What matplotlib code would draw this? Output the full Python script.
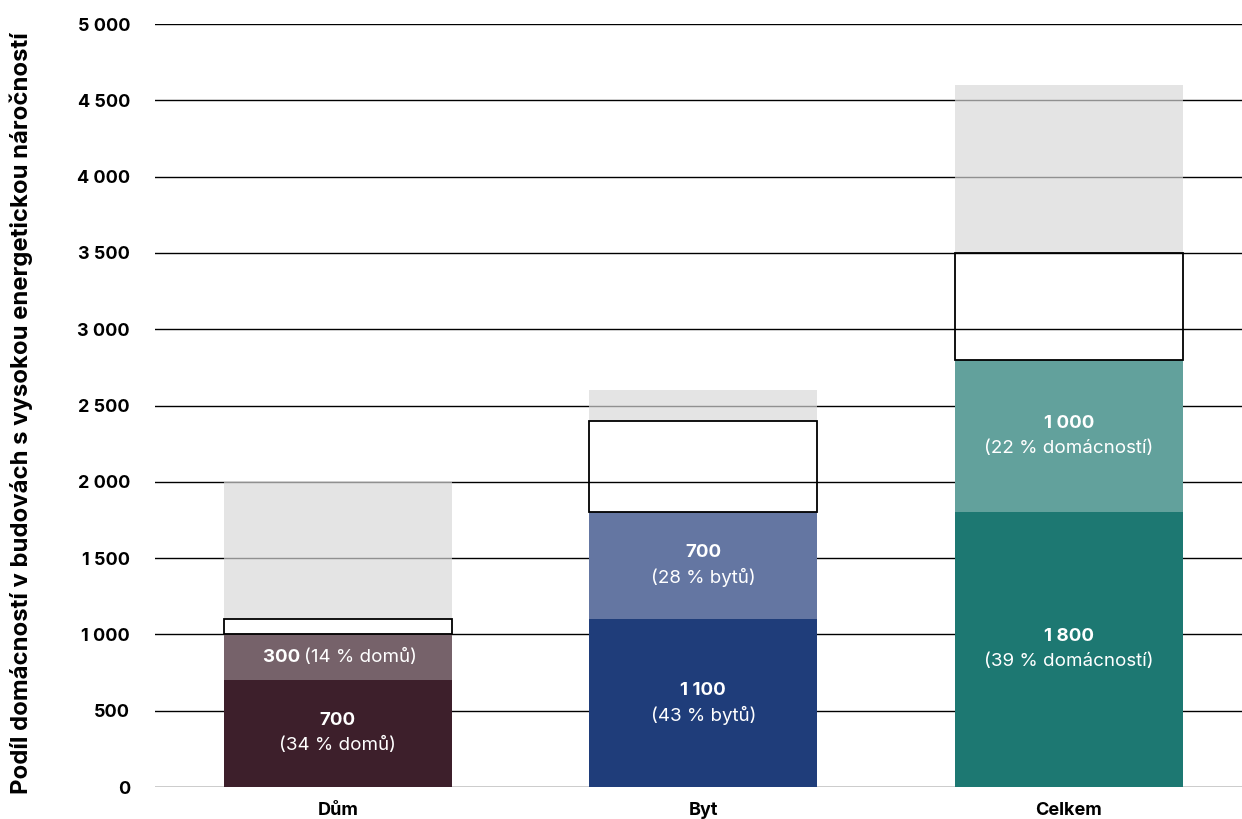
import numpy as np
import matplotlib
matplotlib.use("Agg")
from matplotlib import pyplot as plt

plt.rcParams['font.family'] = ['Inter', 'DejaVu Sans']

categories = ['Dům', 'Byt', 'Celkem']
high = [700, 1100, 1800]          # spodní segment
medium = [300, 700, 1000]         # druhý segment
outline = [100, 600, 700]         # prázdný rámeček
rest = [900, 200, 1100]           # šedý zbytek
high_pct = ['34 % domů', '43 % bytů', '39 % domácností']
medium_pct = ['14 % domů', '28 % bytů', '22 % domácností']
yticks = [0, 500, 1000, 1500, 2000, 2500, 3000, 3500, 4000, 4500, 5000]

dark = ['#3d1f2b', '#1f3d7a', '#1d7872']
light = ['#76626a', '#6476a2', '#62a19c']

fig = plt.figure(figsize=(12.42, 8.19), dpi=100)
ax = fig.add_axes([0.1248, 0.039, 0.8828, 0.9316])

x = np.arange(len(categories))
w = 0.624
high = np.array(high)
medium = np.array(medium)
outline = np.array(outline)
rest = np.array(rest)

for t in yticks:
    ax.axhline(t, color='black', lw=1.0, zorder=1)

ax.bar(x, high, w, color=dark, zorder=2)
ax.bar(x, medium, w, bottom=high, color=light, zorder=2)
ax.bar(x, outline, w, bottom=high + medium, facecolor='none',
       edgecolor='black', lw=1.3, zorder=4)
ax.bar(x, rest, w, bottom=high + medium + outline, color='#d7d7d7',
       alpha=0.675, lw=0, zorder=3)

fig.canvas.draw()
renderer = fig.canvas.get_renderer()

fs = 13.5


def two_lines(xc, ymid, top, bottom):
    # tučné číslo nahoře, podíl v závorce pod ním
    ax.annotate(top, (xc, ymid), xytext=(0, 13), textcoords='offset pixels',
                ha='center', va='center', color='white', fontsize=fs,
                fontweight='bold', zorder=5)
    ax.annotate(bottom, (xc, ymid), xytext=(0, -12), textcoords='offset pixels',
                ha='center', va='center', color='white', fontsize=fs, zorder=5)


def fmt(v):
    return f'{v:,}'.replace(',', ' ')


for i in range(len(categories)):
    two_lines(x[i], high[i] / 2, fmt(high[i]), f'({high_pct[i]})')
    ymid = high[i] + medium[i] / 2
    num = fmt(medium[i])
    if i == 0:
        # jeden řádek: tučné číslo + běžný text
        t1 = ax.text(0, 0, num + ' ', fontsize=fs, fontweight='bold')
        t2 = ax.text(0, 0, f'({medium_pct[i]})', fontsize=fs)
        w1 = t1.get_window_extent(renderer).width
        w2 = t2.get_window_extent(renderer).width
        t1.remove()
        t2.remove()
        px = ax.transData.transform((x[i], ymid))
        left = px[0] - (w1 + w2) / 2
        inv = ax.transData.inverted()
        xl = inv.transform((left, px[1]))[0]
        xr = inv.transform((left + w1, px[1]))[0]
        ax.text(xl, ymid, num + ' ', ha='left', va='center', color='white',
                fontsize=fs, fontweight='bold', zorder=5)
        ax.text(xr, ymid, f'({medium_pct[i]})', ha='left', va='center',
                color='white', fontsize=fs, zorder=5)
    else:
        two_lines(x[i], ymid, num, f'({medium_pct[i]})')

ax.set_xlim(-0.5, 2.5)
ax.set_ylim(0, 5000)
ax.set_yticks(yticks)
ax.set_yticklabels([fmt(t) for t in yticks], fontsize=13, fontweight='bold')
ax.set_xticks(x)
ax.set_xticklabels(categories, fontsize=13, fontweight='bold')
ax.tick_params(axis='y', length=0, pad=18)
ax.tick_params(axis='x', length=0, pad=11)
for s in ax.spines.values():
    s.set_visible(False)
ax.set_ylabel('Podíl domácností v budovách s vysokou energetickou náročností',
              fontsize=17.2, fontweight='bold')
ax.yaxis.set_label_coords(-0.111, 0.49)

fig.savefig('out.png', dpi=100)
